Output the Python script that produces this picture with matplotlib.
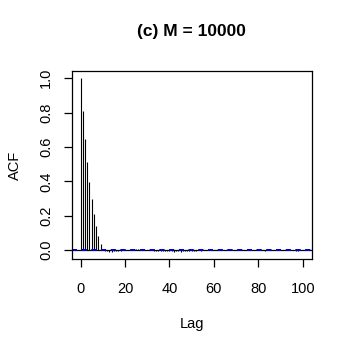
import matplotlib
matplotlib.use("Agg")
import matplotlib.pyplot as plt
import numpy as np

lags = list(range(0, 101))
acf_values = [
    1.000, 0.811, 0.648, 0.511, 0.394, 0.295, 0.210, 0.142, 0.083, 0.037,
    0.008, -0.004, -0.008, -0.010, -0.009, -0.007, -0.006, -0.005, -0.004, -0.002,
    0.000, 0.001, 0.002, 0.001, 0.003, 0.004, 0.005, 0.004, 0.006, 0.003,
    0.002, 0.000, -0.002, -0.003, -0.004, -0.005, -0.004, -0.006, -0.007, -0.006,
    -0.008, -0.007, -0.009, -0.008, -0.007, -0.009, -0.008, -0.006, -0.007, -0.005,
    -0.006, -0.004, -0.003, -0.002, -0.003, -0.001, 0.000, 0.001, -0.001, 0.002,
    0.001, -0.001, -0.002, 0.000, 0.001, 0.002, 0.001, -0.001, -0.002, -0.001,
    0.000, 0.001, 0.002, 0.001, 0.000, -0.001, -0.002, -0.001, 0.001, 0.002,
    0.001, -0.001, -0.002, -0.003, -0.002, -0.001, 0.000, 0.001, 0.000, -0.001,
    -0.002, -0.001, 0.000, 0.001, 0.000, -0.001, -0.002, -0.003, -0.004, -0.002,
    -0.001,
]
conf_bound = 0.002
xticks = [0, 20, 40, 60, 80, 100]
yticks = [0.0, 0.2, 0.4, 0.6, 0.8, 1.0]

plt.rcParams['font.family'] = ['Liberation Sans', 'DejaVu Sans']

fig = plt.figure(figsize=(3.49, 3.49), dpi=100)
ax = fig.add_axes([0.2054, 0.257, 0.6876, 0.5396])

ax.vlines(lags, 0, acf_values, colors='black', linewidth=0.8)
ax.axhline(0, color='black', linewidth=0.9)
ax.axhline(conf_bound, color='#0000CC', linewidth=1.4, linestyle=(0, (2.5, 2.5)))
ax.axhline(-conf_bound, color='#0000CC', linewidth=1.4, linestyle=(0, (2.5, 2.5)))

ax.set_xlim(-4, 104)
ax.set_ylim(-0.054, 1.0425)
ax.set_xticks(xticks)
ax.set_xticklabels([str(v) for v in xticks])
ax.set_yticks(yticks)
ax.set_yticklabels([f"{v:.1f}" for v in yticks], rotation=90, va='center')

for s in ax.spines.values():
    s.set_linewidth(0.9)
ax.tick_params(direction='out', length=5.5, width=0.9, labelsize=10.5)
ax.tick_params(axis='x', pad=11)
ax.tick_params(axis='y', pad=8)

ax.set_xlabel('Lag', fontsize=10.5, labelpad=15)
ax.set_ylabel('ACF', fontsize=10.5, labelpad=12)
ax.set_title('(c) M = 10000', fontsize=12.5, fontweight='bold', pad=25)

fig.savefig('out.png', dpi=100)
